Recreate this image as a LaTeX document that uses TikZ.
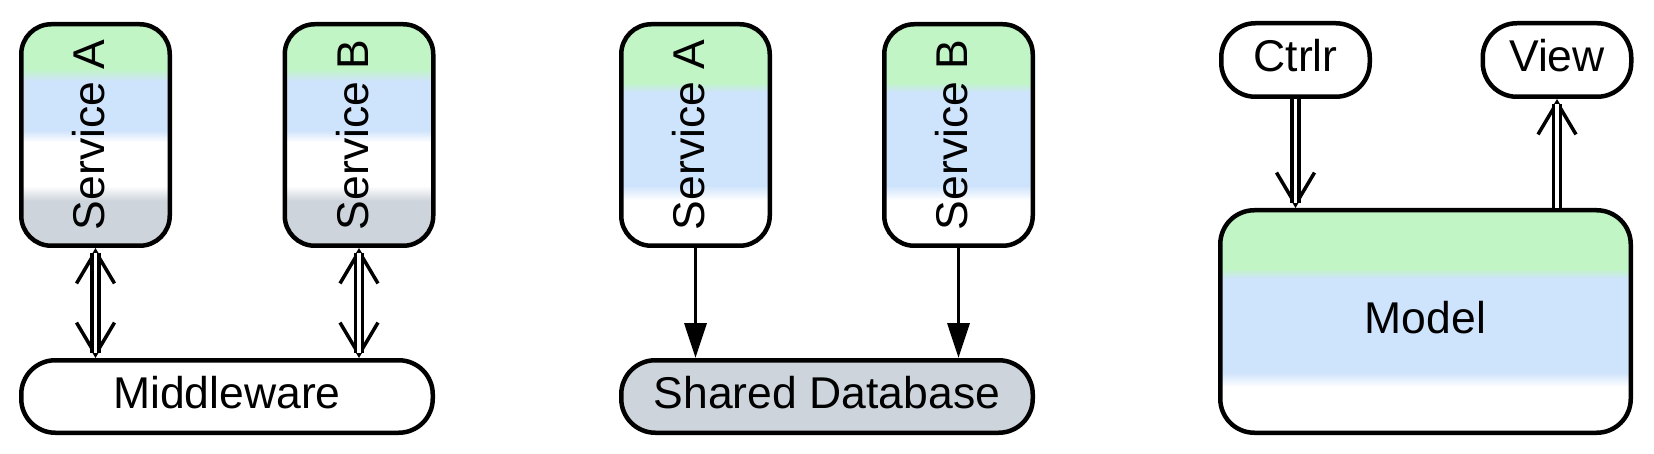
\documentclass[tikz,border=0pt]{standalone}
\usepackage{fontspec}
\usepackage{graphicx}
\setmainfont{Liberation Sans}
\usetikzlibrary{calc,arrows.meta}
\definecolor{cgreen}{RGB}{193,245,197}
\definecolor{cblue}{RGB}{206,227,252}
\definecolor{cgray}{RGB}{206,212,220}
\newcommand{\bandsolid}[3]{\fill[#1, sharp corners] ($(path picture bounding box.north west)!#2!(path picture bounding box.south west)$) rectangle ($(path picture bounding box.north east)!#3!(path picture bounding box.south east)$);}
\newcommand{\bandshade}[4]{\shade[top color=#1, bottom color=#2, sharp corners] ($(path picture bounding box.north west)!#3!(path picture bounding box.south west)$) rectangle ($(path picture bounding box.north east)!#4!(path picture bounding box.south east)$);}
\newcommand{\vlabel}[1]{\rotatebox{90}{\rule[-14pt]{0pt}{14pt}#1}}
\tikzset{
  box/.style={draw, line width=4.5pt, rounded corners=30pt, inner sep=0pt, fill=white,
    font=\fontsize{44.5pt}{53pt}\selectfont},
  hbox/.style={box, text height=31pt, text depth=7pt},
  svc/.style={box, minimum width=148.5pt, minimum height=221.5pt},
  wide/.style={hbox, minimum width=411.5pt, minimum height=72.5pt, rounded corners=34pt},
  small/.style={hbox, minimum width=148.5pt, minimum height=73.5pt, rounded corners=34pt},
  bandsfour/.style={path picture={
    \bandsolid{cgreen}{0}{0.201}
    \bandshade{cgreen}{cblue}{0.2}{0.258}
    \bandsolid{cblue}{0.257}{0.479}
    \bandshade{cblue}{white}{0.478}{0.532}
    \bandshade{white}{cgray}{0.73}{0.797}
    \bandsolid{cgray}{0.796}{1}}},
  bandsthree/.style={path picture={
    \bandsolid{cgreen}{0}{0.263}
    \bandshade{cgreen}{cblue}{0.262}{0.309}
    \bandsolid{cblue}{0.308}{0.729}
    \bandshade{cblue}{white}{0.728}{0.794}}},
  openv/.tip={Straight Barb[sharp, length=32pt, width=38pt, line width=3.5pt]},
  barbline/.style={draw=black, line width=3.5pt},
  dblconn/.style={draw=black, double=white, line width=3.4pt, double distance=3.5pt},
  solidconn/.style={draw=black, line width=3.5pt, -{Triangle[length=35pt, width=22pt]}}
}
\begin{document}
\begin{tikzpicture}[x=1pt, y=-1pt]
\useasboundingbox (0,0) rectangle (1654,454);
% panel 1
\node[svc, bandsfour] (sa1) at (95.5,135) {\vlabel{Service A}};
\node[svc, bandsfour] (sb1) at (359,135) {\vlabel{Service B}};
\node[wide] (mw) at (227,396.5) {Middleware};
\draw[barbline, openv-openv] (sa1.south) -- (sa1.south |- mw.north);
\draw[dblconn, shorten <=5pt, shorten >=5pt] (sa1.south) -- (sa1.south |- mw.north);
\draw[barbline, openv-openv] (sb1.south) -- (sb1.south |- mw.north);
\draw[dblconn, shorten <=5pt, shorten >=5pt] (sb1.south) -- (sb1.south |- mw.north);
% panel 2
\node[svc, bandsthree] (sa2) at (695.5,135) {\vlabel{Service A}};
\node[svc, bandsthree] (sb2) at (958.5,135) {\vlabel{Service B}};
\node[wide, fill=cgray] (db) at (827,396.5) {Shared Database};
\draw[solidconn] (sa2.south) -- (sa2.south |- db.north);
\draw[solidconn] (sb2.south) -- (sb2.south |- db.north);
% panel 3
\node[small] (ctrl) at (1295.5,60) {Ctrlr};
\node[small] (view) at (1557,60) {View};
\node[hbox, bandsthree, minimum width=410.5pt, minimum height=222.5pt, rounded corners=34pt] (model) at (1425.5,321.5) {Model};
\draw[barbline, -openv] (ctrl.south) -- (ctrl.south |- model.north);
\draw[dblconn, shorten >=5pt] (ctrl.south) -- (ctrl.south |- model.north);
\draw[barbline, -openv] (view.south |- model.north) -- (view.south);
\draw[dblconn, shorten >=5pt] (view.south |- model.north) -- (view.south);
\end{tikzpicture}
\end{document}
